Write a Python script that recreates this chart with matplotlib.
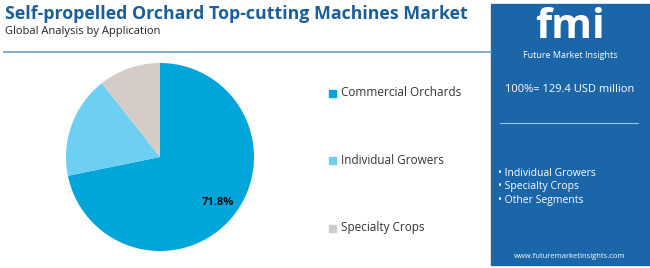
import matplotlib.pyplot as plt
from matplotlib.patches import Rectangle
from matplotlib.lines import Line2D

# data
categories = ['Commercial Orchards', 'Individual Growers', 'Specialty Crops']
shares = [71.8, 17.6, 10.6]
colors = ['#00a5da', '#6dcff2', '#d5ccc8']
legend_colors = ['#00a5da', '#6dcff2', '#cccccc']
side_items = ['Individual Growers', 'Specialty Crops', 'Other Segments']
total_text = '100%= 129.4 USD million'

W, H = 650, 268
fig = plt.figure(figsize=(W/100, H/100), dpi=100)
fig.patch.set_facecolor('white')
plt.rcParams['font.family'] = ['Open Sans', 'DejaVu Sans']

def fx(x): return x / W
def fy(y): return 1 - y / H

# title
fig.text(fx(5), fy(14), 'Self-propelled Orchard Top-cutting Machines Market',
         fontsize=12.8, fontweight='bold', color='#1b5e98', va='center')
fig.text(fx(5), fy(31), 'Global Analysis by Application', fontsize=8,
         color='#222222', va='center')
fig.add_artist(Line2D([fx(4), fx(491)], [fy(52), fy(52)], color='#6b9fca', lw=1.2))

# pie
ax = fig.add_axes([fx(66), fy(251), fx(188), 188/H])
wedges, _ = ax.pie(shares, colors=colors, startangle=90, counterclock=False,
                   wedgeprops=dict(linewidth=0))
ax.set_xlim(-1, 1)
ax.set_ylim(-1, 1)
ax.set_aspect('equal')
ax.text(0.62, -0.48, f'{shares[0]}%', fontsize=8, fontweight='bold',
        color='#111111', ha='center', va='center')

# legend
leg_y = [93, 160, 228]
for name, c, y in zip(categories, legend_colors, leg_y):
    fig.add_artist(Rectangle((fx(329), fy(y + 3.5)), fx(7), 7/H, color=c))
    fig.text(fx(341), fy(y), name, fontsize=8.5, color='#333333', va='center')

# right panel
fig.add_artist(Rectangle((fx(491), fy(265)), fx(159), 261/H, color='#1a66a8'))
fig.text(fx(570), fy(27), 'fmi', fontsize=30, fontweight='bold', color='white',
         ha='center', va='center')
fig.text(fx(570), fy(55), 'Future Market Insights', fontsize=6.5, color='white',
         ha='center', va='center')
fig.text(fx(570), fy(89), total_text, fontsize=8, color='white',
         ha='center', va='center')
fig.add_artist(Line2D([fx(500), fx(638)], [fy(123), fy(123)], color='#9cc3e6', lw=0.8))
for i, s in enumerate(side_items):
    fig.text(fx(498), fy(173 + 13.5 * i), '• ' + s, fontsize=7.5, color='white',
             va='center')
fig.text(fx(570), fy(256), 'www.futuremarketinsights.com', fontsize=5.5,
         color='white', ha='center', va='center')

fig.savefig('out.png', dpi=100)
